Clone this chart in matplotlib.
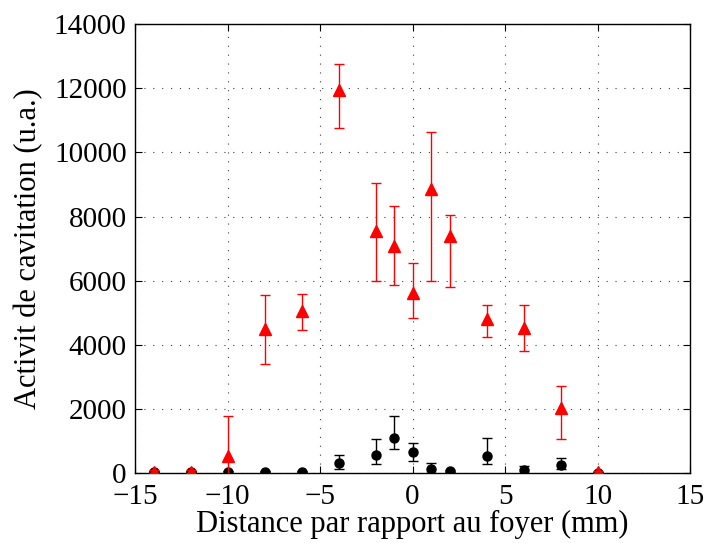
import matplotlib
matplotlib.use('Agg')
import matplotlib.pyplot as plt
import numpy as np

plt.rcParams['font.family'] = ['Liberation Serif', 'DejaVu Serif']

###### Data #######
distance = [-14, -12, -10, -8, -6, -4, -2, -1, 0, 1, 2, 4, 6, 8, 10]

# red triangles
act_red = [50, 50, 550, 4490, 5050, 11950, 7560, 7090, 5625, 8845, 7390, 4800, 4535, 2025, 40]
red_low = [40, 40, 1250, 1080, 600, 1190, 1560, 1225, 800, 2860, 1600, 540, 720, 960, 30]
red_high = [40, 40, 1230, 1070, 540, 810, 1490, 1235, 920, 1800, 670, 450, 700, 700, 30]

# black circles
act_blk = [50, 50, 40, 50, 50, 330, 570, 1110, 665, 145, 60, 550, 90, 260, 20]
blk_low = [20, 20, 20, 20, 20, 200, 280, 350, 270, 145, 30, 260, 90, 135, 15]
blk_high = [20, 20, 20, 20, 20, 230, 510, 690, 270, 165, 30, 560, 150, 225, 15]
###################

fig = plt.figure(figsize=(7.05, 5.43), dpi=100)
ax = fig.add_axes([0.1915, 0.1284, 0.7875, 0.8274])

ax.errorbar(distance, act_blk, yerr=[blk_low, blk_high], fmt='o', color='k',
            ms=6.5, elinewidth=1, capsize=3.5, capthick=1, zorder=3)
ax.errorbar(distance, act_red, yerr=[red_low, red_high], fmt='^', color='red',
            ms=8.5, elinewidth=1, capsize=3.5, capthick=1, zorder=4)

ax.set_xlim(-15, 15)
ax.set_ylim(0, 14000)
ax.set_xticks(np.arange(-15, 16, 5))
ax.set_yticks(np.arange(0, 14001, 2000))

ax.grid(True, color='0.25', linestyle=(0, (1, 7)), linewidth=0.8)
ax.tick_params(direction='in', top=True, right=True, length=5, width=0.8,
               labelsize=21)
ax.tick_params(axis='x', pad=8)
ax.tick_params(axis='y', pad=6)
for s in ax.spines.values():
    s.set_linewidth(1.0)

ax.set_xlabel('Distance par rapport au foyer (mm)', fontsize=22, labelpad=0)
ax.set_ylabel('Activit de cavitation (u.a.)', fontsize=22, labelpad=8)

fig.savefig('out.png', dpi=100)
